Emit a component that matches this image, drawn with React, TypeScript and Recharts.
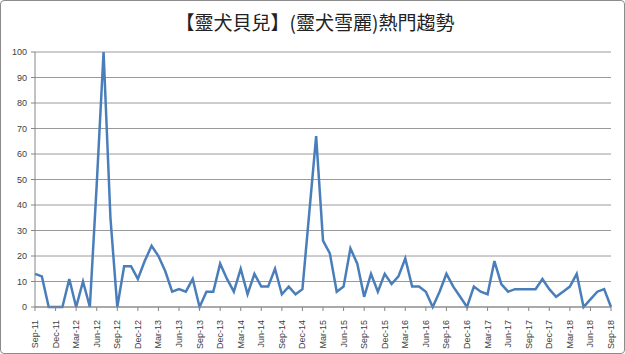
import { LineChart, Line, XAxis, YAxis, CartesianGrid } from "recharts";

const TITLE = "【靈犬貝兒】(靈犬雪麗)熱門趨勢";

const months = [
  "Sep-11", "Oct-11", "Nov-11", "Dec-11",
  "Jan-12", "Feb-12", "Mar-12", "Apr-12", "May-12", "Jun-12", "Jul-12", "Aug-12", "Sep-12", "Oct-12", "Nov-12", "Dec-12",
  "Jan-13", "Feb-13", "Mar-13", "Apr-13", "May-13", "Jun-13", "Jul-13", "Aug-13", "Sep-13", "Oct-13", "Nov-13", "Dec-13",
  "Jan-14", "Feb-14", "Mar-14", "Apr-14", "May-14", "Jun-14", "Jul-14", "Aug-14", "Sep-14", "Oct-14", "Nov-14", "Dec-14",
  "Jan-15", "Feb-15", "Mar-15", "Apr-15", "May-15", "Jun-15", "Jul-15", "Aug-15", "Sep-15", "Oct-15", "Nov-15", "Dec-15",
  "Jan-16", "Feb-16", "Mar-16", "Apr-16", "May-16", "Jun-16", "Jul-16", "Aug-16", "Sep-16", "Oct-16", "Nov-16", "Dec-16",
  "Jan-17", "Feb-17", "Mar-17", "Apr-17", "May-17", "Jun-17", "Jul-17", "Aug-17", "Sep-17", "Oct-17", "Nov-17", "Dec-17",
  "Jan-18", "Feb-18", "Mar-18", "Apr-18", "May-18", "Jun-18", "Jul-18", "Aug-18", "Sep-18",
];

const interest = [
  13, 12, 0, 0,
  0, 11, 0, 10, 0, 48, 100, 35, 0, 16, 16, 11,
  18, 24, 20, 14, 6, 7, 6, 11, 0, 6, 6, 17,
  11, 6, 15, 5, 13, 8, 8, 15, 5, 8, 5, 7,
  37, 67, 26, 21, 6, 8, 23, 17, 4, 13, 6, 13,
  9, 12, 19, 8, 8, 6, 0, 6, 13, 8, 4, 0,
  8, 6, 5, 18, 9, 6, 7, 7, 7, 7, 11, 7,
  4, 6, 8, 13, 0, 3, 6, 7, 0,
];

const yTicks = [0, 10, 20, 30, 40, 50, 60, 70, 80, 90, 100];

const data = months.map((m, i) => ({ month: m, value: interest[i] }));

const AXIS_FONT = "'Liberation Sans', Arial, sans-serif";

function MonthTick({ x, y, payload }: any) {
  return (
    <g transform={`translate(${x},${y})`}>
      <text
        transform="rotate(-90)"
        x={-7}
        y={3}
        textAnchor="end"
        fontSize={9}
        fontFamily={AXIS_FONT}
        fill="#404040"
      >
        {payload.value}
      </text>
    </g>
  );
}

export default function App() {
  return (
    <div
      style={{
        position: "absolute",
        left: 0,
        top: 0,
        width: 625,
        height: 354,
        background: "#fff",
      }}
    >
      <div
        style={{
          position: "absolute",
          left: 0,
          top: 12,
          width: 630,
          textAlign: "center",
          fontFamily: "'Noto Sans CJK TC', sans-serif",
          fontSize: 19,
          lineHeight: "20px",
          color: "#222",
        }}
      >
        {TITLE}
      </div>
      <LineChart
        width={625}
        height={354}
        data={data}
        margin={{ top: 52, right: 14, bottom: 0, left: 0 }}
      >
        <CartesianGrid vertical={false} stroke="#9a9a9a" strokeWidth={1} />
        <XAxis
          dataKey="month"
          interval={2}
          height={47}
          tick={<MonthTick />}
          tickSize={4}
          axisLine={{ stroke: "#868686" }}
          tickLine={{ stroke: "#868686" }}
          padding={{ left: 0, right: 0 }}
        />
        <YAxis
          width={35}
          domain={[0, 100]}
          ticks={yTicks}
          interval={0}
          tickSize={4}
          tickMargin={4}
          axisLine={{ stroke: "#868686" }}
          tickLine={{ stroke: "#868686" }}
          tick={{ fontSize: 9, fill: "#404040", fontFamily: AXIS_FONT }}
        />
        <Line
          type="linear"
          dataKey="value"
          stroke="#4a7ebb"
          strokeWidth={2.5}
          dot={false}
          isAnimationActive={false}
        />
      </LineChart>
      <div
        style={{
          position: "absolute",
          left: 0,
          top: 0,
          width: 625,
          height: 354,
          boxSizing: "border-box",
          border: "1px solid #8c8c8c",
          borderRadius: 4,
          pointerEvents: "none",
        }}
      />
    </div>
  );
}
